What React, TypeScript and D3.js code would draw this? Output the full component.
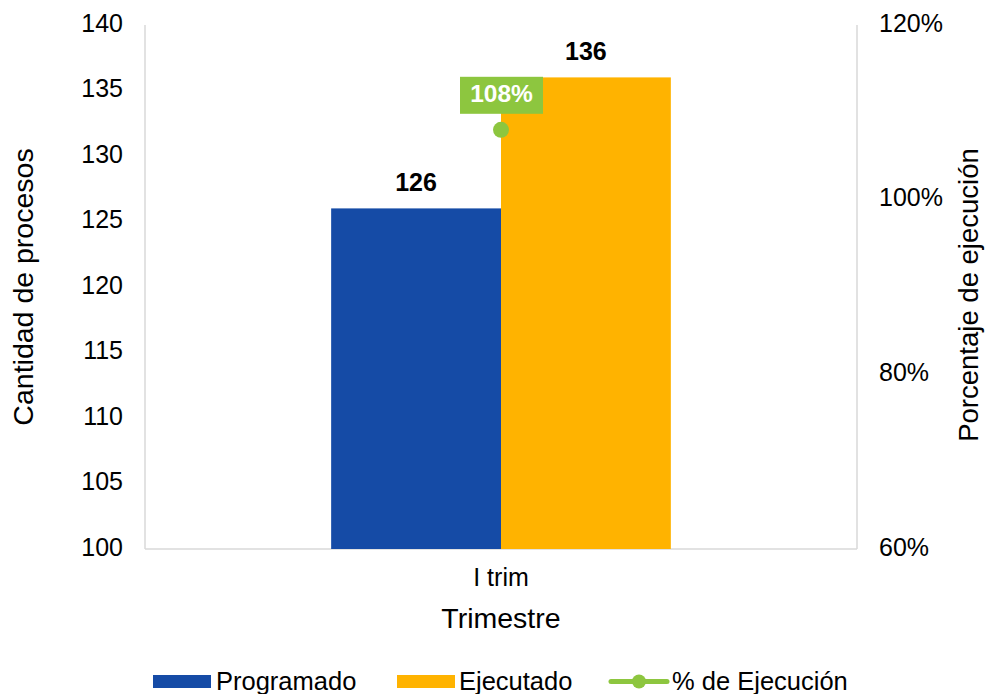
import * as d3 from "d3";

const categories = ["I trim"];
const programado = [126];
const ejecutado = [136];
const ejecucion = [1.08];
const leftTicks = [100, 105, 110, 115, 120, 125, 130, 135, 140];
const rightTicks = [0.6, 0.8, 1.0, 1.2];

const WIDTH = 986;
const HEIGHT = 694;
const PLOT = { left: 145, right: 857, top: 25, bottom: 549 };

const BLUE = "#154BA6";
const ORANGE = "#FFB300";
const GREEN = "#8DC63F";
const AXIS = "#D9D9D9";
const FONT = "'Liberation Sans', Arial, sans-serif";

const series = [
  { name: "Programado", values: programado, color: BLUE },
  { name: "Ejecutado", values: ejecutado, color: ORANGE },
];

const App = () => {
  const x = d3
    .scaleBand<string>()
    .domain(categories)
    .range([PLOT.left, PLOT.right])
    .padding(0.354);
  const xInner = d3
    .scaleBand<string>()
    .domain(series.map((s) => s.name))
    .range([0, x.bandwidth()]);
  const yLeft = d3.scaleLinear().domain([100, 140]).range([PLOT.bottom, PLOT.top]);
  const yRight = d3.scaleLinear().domain([0.6, 1.2]).range([PLOT.bottom, PLOT.top]);
  const pct = d3.format(".0%");

  return (
    <svg
      width={WIDTH}
      height={HEIGHT}
      style={{ position: "absolute", left: 0, top: 0 }}
      fontFamily={FONT}
    >
      {/* axis lines */}
      <line x1={PLOT.left} x2={PLOT.left} y1={PLOT.top} y2={PLOT.bottom} stroke={AXIS} strokeWidth={1.5} />
      <line x1={PLOT.right} x2={PLOT.right} y1={PLOT.top} y2={PLOT.bottom} stroke={AXIS} strokeWidth={1.5} />
      <line x1={PLOT.left} x2={PLOT.right} y1={PLOT.bottom} y2={PLOT.bottom} stroke={AXIS} strokeWidth={1.5} />

      {leftTicks.map((t) => (
        <text key={t} x={123} y={yLeft(t)} textAnchor="end" dominantBaseline="middle" fontSize={25} fill="#000">
          {t}
        </text>
      ))}
      {rightTicks.map((t) => (
        <text key={t} x={879} y={yRight(t)} textAnchor="start" dominantBaseline="middle" fontSize={25} fill="#000">
          {pct(t)}
        </text>
      ))}

      {/* bars */}
      {categories.map((c, i) => (
        <g key={c}>
          {series.map((s) => {
            const bx = (x(c) ?? 0) + (xInner(s.name) ?? 0);
            const by = yLeft(s.values[i]);
            return (
              <g key={s.name}>
                <rect x={bx} y={by} width={xInner.bandwidth()} height={PLOT.bottom - by} fill={s.color} />
                <text
                  x={bx + xInner.bandwidth() / 2}
                  y={by - 24}
                  textAnchor="middle"
                  dominantBaseline="middle"
                  fontSize={25}
                  fontWeight="bold"
                  fill="#000"
                >
                  {s.values[i]}
                </text>
              </g>
            );
          })}
          {/* % ejecución point */}
          {(() => {
            const cx = (x(c) ?? 0) + x.bandwidth() / 2;
            const cy = yRight(ejecucion[i]);
            return (
              <g>
                <circle cx={cx} cy={cy} r={8} fill={GREEN} />
                <rect x={cx - 41} y={cy - 53} width={83} height={37} fill={GREEN} />
                <text
                  x={cx + 0.5}
                  y={cy - 34}
                  textAnchor="middle"
                  dominantBaseline="middle"
                  fontSize={24.5}
                  fontWeight="bold"
                  fill="#fff"
                >
                  {pct(ejecucion[i])}
                </text>
              </g>
            );
          })()}
          <text
            x={(x(c) ?? 0) + x.bandwidth() / 2}
            y={579}
            textAnchor="middle"
            dominantBaseline="middle"
            fontSize={25}
            fill="#000"
          >
            {c}
          </text>
        </g>
      ))}

      {/* axis titles */}
      <text x={501} y={620} textAnchor="middle" dominantBaseline="middle" fontSize={28.5} fill="#000">
        Trimestre
      </text>
      <text
        transform={`translate(25, ${(PLOT.top + PLOT.bottom) / 2}) rotate(-90)`}
        textAnchor="middle"
        dominantBaseline="middle"
        fontSize={28.5}
        fill="#000"
      >
        Cantidad de procesos
      </text>
      <text
        transform={`translate(971, ${(PLOT.top + PLOT.bottom) / 2 + 8}) rotate(-90)`}
        textAnchor="middle"
        dominantBaseline="middle"
        fontSize={27.5}
        fill="#000"
      >
        Porcentaje de ejecución
      </text>

      {/* legend */}
      <g fontSize={25.5} fill="#000">
        <rect x={153} y={675} width={58} height={13} fill={BLUE} />
        <text x={216} y={683} dominantBaseline="middle">Programado</text>
        <rect x={397} y={675} width={58} height={13} fill={ORANGE} />
        <text x={459} y={683} dominantBaseline="middle">Ejecutado</text>
        <line x1={611} x2={667} y1={681.5} y2={681.5} stroke={GREEN} strokeWidth={5} strokeLinecap="round" />
        <circle cx={639} cy={681.5} r={7} fill={GREEN} />
        <text x={672} y={683} dominantBaseline="middle">% de Ejecución</text>
      </g>
    </svg>
  );
};

export default App;
